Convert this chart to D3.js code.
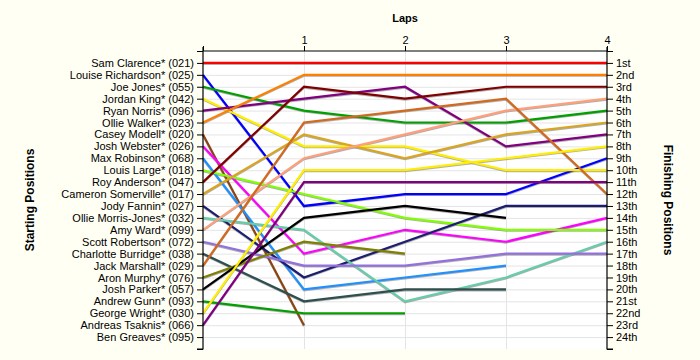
<!DOCTYPE html>
<html>
<head>
<meta charset="utf-8">
<script src="https://cdn.jsdelivr.net/npm/d3@7"></script>
<style>
  html, body { margin: 0; padding: 0; background: #fffff4; }
  svg { display: block; }
  text { font-family: "Liberation Sans", Arial, sans-serif; }
</style>
</head>
<body>
<svg id="chart" width="700" height="360"></svg>
<script>
// ---------- data ----------
const drivers = [
  "Sam Clarence* (021)", "Louise Richardson* (025)", "Joe Jones* (055)", "Jordan King* (042)",
  "Ryan Norris* (096)", "Ollie Walker* (023)", "Casey Modell* (020)", "Josh Webster* (026)",
  "Max Robinson* (068)", "Louis Large* (018)", "Roy Anderson* (047)", "Cameron Somerville* (017)",
  "Jody Fannin* (027)", "Ollie Morris-Jones* (032)", "Amy Ward* (099)", "Scott Robertson* (072)",
  "Charlotte Burridge* (038)", "Jack Marshall* (029)", "Aron Murphy* (076)", "Josh Parker* (057)",
  "Andrew Gunn* (093)", "George Wright* (030)", "Andreas Tsaknis* (066)", "Ben Greaves* (095)"
];
const laps = [0, 1, 2, 3, 4];
const lapLabels = ["", "1", "2", "3", "4"];
const finishLabels = ["1st","2nd","3rd","4th","5th","6th","7th","8th","9th","10th","11th","12th",
  "13th","14th","15th","16th","17th","18th","19th","20th","21st","22nd","23rd","24th"];
// position of each driver at lap 0..4 (null = not running)
const positions = [
  [1, 1, 1, 1, 1],          // Sam Clarence
  [2, 13, 12, 12, 9],       // Louise Richardson
  [3, 5, 6, 6, 5],          // Joe Jones
  [4, 8, 8, 10, 10],        // Jordan King
  [5, 4, 3, 8, 7],          // Ryan Norris
  [6, 2, 2, 2, 2],          // Ollie Walker
  [7, 23, null, null, null],// Casey Modell
  [8, 17, 15, 16, 14],      // Josh Webster
  [9, 20, 19, 18, null],    // Max Robinson
  [10, 12, 14, 15, 15],     // Louis Large
  [11, 3, 4, 3, 3],         // Roy Anderson
  [12, 7, 9, 7, 6],         // Cameron Somerville
  [13, 19, 16, 13, 13],     // Jody Fannin
  [14, 15, 21, 19, 16],     // Ollie Morris-Jones
  [15, 9, 7, 5, 4],         // Amy Ward
  [16, 18, 18, 17, 17],     // Scott Robertson
  [17, 21, 20, 20, null],   // Charlotte Burridge
  [18, 6, 5, 4, 12],        // Jack Marshall
  [19, 16, 17, null, null], // Aron Murphy
  [20, 14, 13, 14, null],   // Josh Parker
  [21, 22, 22, null, null], // Andrew Gunn
  [22, 10, 10, 9, 8],       // George Wright
  [23, 11, 11, 11, 11],     // Andreas Tsaknis
  [null, null, null, null, null] // Ben Greaves
];
const colors = [
  "#ff0000", "#0000ff", "#00a000", "#ffee00", "#800080", "#ff8000", "#8b4513", "#ff00ff",
  "#1e90ff", "#7fff00", "#800000", "#daa520", "#1c1c70", "#66cdaa", "#ffa07a", "#9370db",
  "#2f4f4f", "#d2691e", "#808000", "#000000", "#00a000", "#ffee00", "#800080", "#888888"
];

// ---------- layout ----------
const svg = d3.select("#chart");
const x = d3.scaleLinear().domain([0, 4]).range([203, 607]);
const y = d3.scaleLinear().domain([0, 25]).range([51, 349]);
const posTicks = d3.range(0, 26);

// plot background
svg.append("rect")
  .attr("x", x(0)).attr("y", y(0))
  .attr("width", x(4) - x(0)).attr("height", y(25) - y(0))
  .attr("fill", "#ffffff");

// grid
svg.append("g").selectAll("line").data(d3.range(1, 25)).join("line")
  .attr("x1", x(0)).attr("x2", x(4))
  .attr("y1", d => y(d) + 0.5).attr("y2", d => y(d) + 0.5)
  .attr("stroke", "#e4e4e4").attr("stroke-width", 1);
svg.append("g").selectAll("line").data([1, 2, 3]).join("line")
  .attr("x1", d => x(d) + 0.5).attr("x2", d => x(d) + 0.5)
  .attr("y1", y(0)).attr("y2", y(25))
  .attr("stroke", "#e4e4e4").attr("stroke-width", 1);

// lines
const line = d3.line()
  .defined(d => d.p != null)
  .x(d => x(d.lap))
  .y(d => y(d.p));

const series = positions.map((arr, i) => ({
  name: drivers[i], color: colors[i],
  values: arr.map((p, j) => ({ lap: laps[j], p }))
}));

const gl = svg.append("g");
series.forEach(s => {
  gl.append("path")
    .attr("d", line(s.values))
    .attr("fill", "none")
    .attr("stroke", "#7a7a7a")
    .attr("stroke-opacity", 0.6)
    .attr("stroke-width", 2)
    .attr("transform", "translate(0,1)");
});
series.forEach(s => {
  gl.append("path")
    .attr("d", line(s.values))
    .attr("fill", "none")
    .attr("stroke", s.color)
    .attr("stroke-width", 2.2)
    .attr("stroke-linejoin", "miter");
});

// axes
const leftAxis = d3.axisLeft(y).tickValues(posTicks).tickSize(6).tickPadding(3)
  .tickFormat(d => (d >= 1 && d <= 24) ? drivers[d - 1] : "");
const rightAxis = d3.axisRight(y).tickValues(posTicks).tickSize(6).tickPadding(3)
  .tickFormat(d => (d >= 1 && d <= 24) ? finishLabels[d - 1] : "");
const topAxis = d3.axisTop(x).tickValues(laps).tickSize(5).tickPadding(2)
  .tickFormat((d, i) => lapLabels[i]);

function styleAxis(g) {
  g.select(".domain").attr("stroke", "#000").attr("stroke-width", 1.2);
  g.selectAll(".tick line").attr("stroke", "#000");
  g.selectAll(".tick text").attr("fill", "#000").attr("font-size", "11px")
    .attr("font-family", "'Liberation Sans', Arial, sans-serif");
}

svg.append("g").attr("transform", `translate(${x(0)},0)`).call(leftAxis).call(styleAxis)
  .select(".domain").attr("d", `M-6,${y(25)}H0V${y(0) - 4}`);
svg.append("g").attr("transform", `translate(${x(4)},0)`).call(rightAxis).call(styleAxis)
  .select(".domain").attr("d", `M6,${y(25)}H0V${y(0) - 4}`);
svg.append("g").attr("transform", `translate(0,${y(0)})`).call(topAxis).call(styleAxis)
  .select(".domain").attr("d", `M${x(0)},0H${x(4)}`);

// titles
svg.append("text").attr("x", (x(0) + x(4)) / 2).attr("y", 22)
  .attr("text-anchor", "middle").attr("font-size", "11px").attr("font-weight", "bold")
  .text("Laps");
svg.append("text")
  .attr("transform", `translate(34,${(y(0) + y(25)) / 2}) rotate(-90)`)
  .attr("text-anchor", "middle").attr("font-size", "12px").attr("font-weight", "bold")
  .text("Starting Positions");
svg.append("text")
  .attr("transform", `translate(664,${(y(0) + y(25)) / 2}) rotate(90)`)
  .attr("text-anchor", "middle").attr("font-size", "12px").attr("font-weight", "bold")
  .text("Finishing Positions");
</script>
</body>
</html>
